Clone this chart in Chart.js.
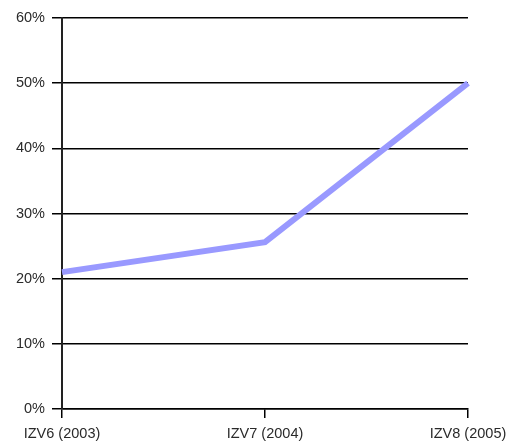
<!DOCTYPE html>
<html>
<head>
<meta charset="utf-8">
<script src="https://cdn.jsdelivr.net/npm/chart.js@4/dist/chart.umd.min.js"></script>
<style>
  html, body { margin: 0; padding: 0; background: #ffffff; }
  #wrap { width: 515px; height: 447px; position: relative; }
</style>
</head>
<body>
<div id="wrap"><canvas id="c"></canvas></div>
<script>
// Survey editions along the horizontal axis
const categories = ['IZV6 (2003)', 'IZV7 (2004)', 'IZV8 (2005)'];
// Share per edition, in percent
const shareValues = [21, 25.6, 50];
// Vertical axis range and step, in percent
const yMin = 0;
const yMax = 60;
const yStep = 10;

const labelFont = { family: '"Liberation Sans", Arial, sans-serif', size: 14.5 };

new Chart(document.getElementById('c'), {
  type: 'line',
  data: {
    labels: categories,
    datasets: [{
      data: shareValues,
      borderColor: 'rgb(153,153,255)',
      borderWidth: 6,
      pointRadius: 0,
      pointHoverRadius: 0,
      tension: 0,
      fill: false,
      clip: false,
      borderJoinStyle: 'miter'
    }]
  },
  options: {
    responsive: true,
    maintainAspectRatio: false,
    animation: false,
    layout: { padding: { top: 18, right: 47, left: 0, bottom: 0 } },
    plugins: { legend: { display: false }, tooltip: { enabled: false } },
    scales: {
      x: {
        offset: false,
        grid: {
          drawOnChartArea: false,
          drawTicks: true,
          tickLength: 9,
          color: '#000000',
          lineWidth: 1.5
        },
        border: { display: true, color: '#000000', width: 1.5 },
        ticks: {
          color: '#2a2a2a',
          font: labelFont,
          padding: 7,
          maxRotation: 0,
          autoSkip: false
        },
        afterFit(scale) { scale.height = 38; }
      },
      y: {
        min: yMin,
        max: yMax,
        grid: {
          color: '#000000',
          lineWidth: 1.5,
          tickLength: 10
        },
        border: { display: true, color: '#222222', width: 2 },
        ticks: {
          stepSize: yStep,
          color: '#2a2a2a',
          font: labelFont,
          padding: 7,
          callback: (v) => v + '%'
        },
        afterFit(scale) { scale.width = 62; }
      }
    }
  }
});
</script>
</body>
</html>
